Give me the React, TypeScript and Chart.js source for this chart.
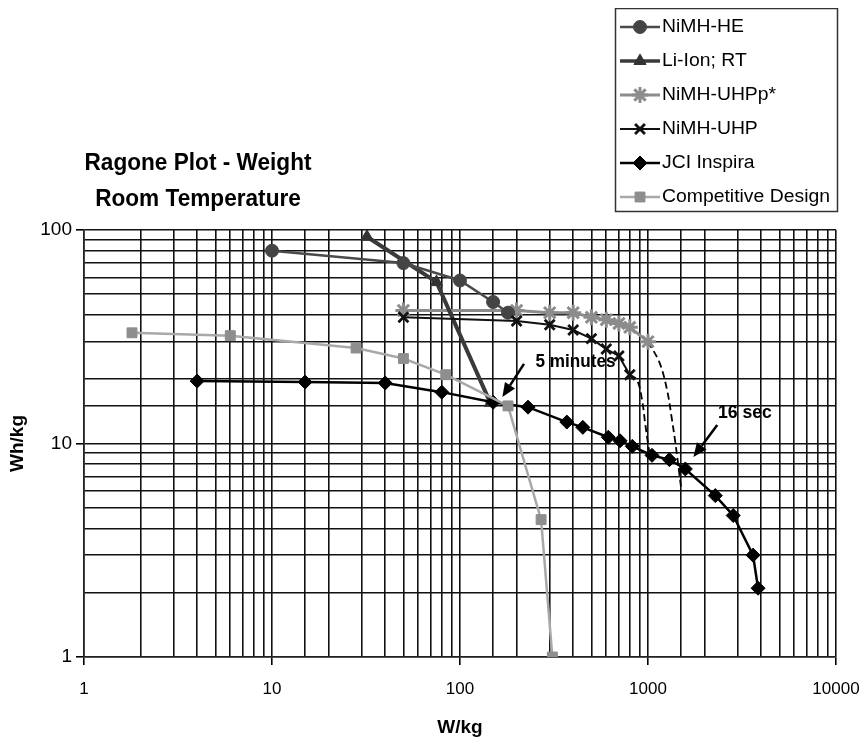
import React, { useEffect, useRef } from 'react';
import { Chart, registerables } from 'chart.js';
import { drawPoint } from 'chart.js/helpers';

Chart.register(...registerables);

// ---------- data ----------
const titleLines = ['Ragone Plot - Weight', 'Room Temperature'];
const xTitle = 'W/kg';
const yTitle = 'Wh/kg';

const nimhHeX = [10, 50, 100, 150, 180];
const nimhHeY = [80, 70, 58, 46, 41];

const liIonX = [32, 75, 145];
const liIonY = [93, 57, 15.5];

const uhppX = [50, 200, 300, 400, 500, 600, 700, 800, 1000];
const uhppY = [42, 42, 41, 41, 39, 38, 36.5, 35, 30];
const uhppTailX = [1000, 1150, 1260, 1340, 1400, 1460, 1500];
const uhppTailY = [30, 24, 18, 13, 10, 7.5, 6.2];

const uhpX = [50, 200, 300, 400, 500, 600, 700, 800];
const uhpY = [39, 37.5, 36, 34, 31, 27.7, 25.7, 21];
const uhpTailX = [800, 875, 930, 965, 1000, 1015];
const uhpTailY = [21, 19.8, 16, 12.5, 10, 9.2];

const jciX = [4, 15, 40, 80, 150, 230, 370, 450, 615, 710, 825, 1050, 1300, 1580, 2280, 2840, 3620, 3850];
const jciY = [19.6, 19.4, 19.2, 17.4, 15.6, 14.8, 12.6, 11.9, 10.7, 10.3, 9.7, 8.8, 8.4, 7.6, 5.7, 4.6, 3.0, 2.1];

const compX = [1.8, 6, 28, 50, 84, 180, 270, 310];
const compY = [33, 32, 28, 25, 21, 15, 4.4, 1.0];

const fiveMinText = '5 minutes';
const fiveMinAt = [252, 24.1];
const fiveMinArrow = [219, 23.6, 168, 16.5];
const sixteenText = '16 sec';
const sixteenAt = [2355, 13.9];
const sixteenArrow = [2336, 12.2, 1743, 8.64];

// ---------- helpers ----------
const FONT = "'Liberation Sans', Arial, Helvetica, sans-serif";
const pts = (xs: number[], ys: number[]) => xs.map((x, i) => ({ x, y: ys[i] }));
const isPow10 = (v: number) => Math.abs(Math.log10(v) - Math.round(Math.log10(v))) < 1e-9;

function squashed(ctx: CanvasRenderingContext2D, text: string, x: number, y: number, k: number, align: CanvasTextAlign) {
  ctx.save();
  ctx.translate(x, y);
  ctx.scale(k, 1);
  ctx.textAlign = align;
  ctx.fillText(text, 0, 0);
  ctx.restore();
}

function arrow(ctx: CanvasRenderingContext2D, x1: number, y1: number, x2: number, y2: number) {
  const ang = Math.atan2(y2 - y1, x2 - x1);
  const hl = 14, hw = 6;
  const bx = x2 - hl * Math.cos(ang), by = y2 - hl * Math.sin(ang);
  ctx.save();
  ctx.strokeStyle = '#000';
  ctx.fillStyle = '#000';
  ctx.lineWidth = 2.5;
  ctx.beginPath();
  ctx.moveTo(x1, y1);
  ctx.lineTo(bx, by);
  ctx.stroke();
  ctx.beginPath();
  ctx.moveTo(x2, y2);
  ctx.lineTo(bx + hw * Math.sin(ang), by - hw * Math.cos(ang));
  ctx.lineTo(bx - hw * Math.sin(ang), by + hw * Math.cos(ang));
  ctx.closePath();
  ctx.fill();
  ctx.restore();
}

const overlayPlugin = {
  id: 'overlay',
  afterDraw(chart: any) {
    const ctx: CanvasRenderingContext2D = chart.ctx;
    const xs = chart.scales.x;
    const ys = chart.scales.y;
    ctx.save();
    ctx.fillStyle = '#000';
    ctx.textBaseline = 'middle';

    // title
    ctx.font = `bold 24px ${FONT}`;
    const kt = 227 / ctx.measureText(titleLines[0]).width;
    squashed(ctx, titleLines[0], 190, 155, kt, 'center');
    squashed(ctx, titleLines[1], 190, 191, kt, 'center');

    // legend
    ctx.strokeStyle = '#333';
    ctx.lineWidth = 1.5;
    ctx.strokeRect(607.5, 0.5, 222, 203);
    ctx.font = `18px ${FONT}`;
    const kl = 168 / ctx.measureText('Competitive Design').width;
    let row = 0;
    chart.data.datasets.forEach((ds: any) => {
      if (!ds.inLegend) return;
      const y = 19 + row * 34;
      row++;
      ctx.save();
      ctx.strokeStyle = ds.borderColor;
      ctx.lineWidth = Math.min(ds.borderWidth, 3.5);
      ctx.beginPath();
      ctx.moveTo(612, y);
      ctx.lineTo(652, y);
      ctx.stroke();
      ctx.fillStyle = ds.pointBackgroundColor;
      ctx.strokeStyle = ds.pointBorderColor;
      ctx.lineWidth = ds.pointBorderWidth;
      drawPoint(ctx, { pointStyle: ds.pointStyle, rotation: 0, radius: ds.pointRadius, borderWidth: ds.pointBorderWidth }, 632, y);
      ctx.restore();
      ctx.fillStyle = '#000';
      squashed(ctx, ds.label, 654, y, kl, 'left');
    });

    // annotations
    ctx.font = `bold 18px ${FONT}`;
    squashed(ctx, fiveMinText, xs.getPixelForValue(fiveMinAt[0]), ys.getPixelForValue(fiveMinAt[1]),
      80 / ctx.measureText(fiveMinText).width, 'left');
    squashed(ctx, sixteenText, xs.getPixelForValue(sixteenAt[0]), ys.getPixelForValue(sixteenAt[1]),
      54 / ctx.measureText(sixteenText).width, 'left');
    arrow(ctx, xs.getPixelForValue(fiveMinArrow[0]), ys.getPixelForValue(fiveMinArrow[1]),
      xs.getPixelForValue(fiveMinArrow[2]), ys.getPixelForValue(fiveMinArrow[3]));
    arrow(ctx, xs.getPixelForValue(sixteenArrow[0]), ys.getPixelForValue(sixteenArrow[1]),
      xs.getPixelForValue(sixteenArrow[2]), ys.getPixelForValue(sixteenArrow[3]));
    ctx.restore();
  },
};

export default function App() {
  const ref = useRef<HTMLCanvasElement>(null);

  useEffect(() => {
    if (!ref.current) return;
    Chart.defaults.font.family = FONT;
    Chart.defaults.color = '#000';

    const series = (label: string, data: any[], color: string, lw: number, style: string, r: number, fill: string, pbw: number, order: number) => ({
      label, data, borderColor: color, borderWidth: lw, pointStyle: style, pointRadius: r,
      pointBackgroundColor: fill, pointBorderColor: fill, pointBorderWidth: pbw,
      pointHoverRadius: r, showLine: true, tension: 0, inLegend: true, order,
    });
    const dashed = (data: any[]) => ({
      label: '', data, borderColor: '#000', borderWidth: 1.8, borderDash: [7, 4],
      pointRadius: 0, showLine: true, tension: 0.35, inLegend: false, order: 10,
    });

    const gridTickColor = (c: any) => (c.tick && isPow10(c.tick.value) ? '#000' : 'rgba(0,0,0,0)');

    const chart = new Chart(ref.current, {
      type: 'scatter',
      data: {
        datasets: [
          series('NiMH-HE', pts(nimhHeX, nimhHeY), '#4a4a4a', 2.5, 'circle', 6.5, '#444', 1, 3),
          series('Li-Ion; RT', pts(liIonX, liIonY), '#3a3a3a', 4, 'triangle', 7, '#333', 1, 4),
          series('NiMH-UHPp*', pts(uhppX, uhppY), '#8c8c8c', 3, 'star', 8, '#8c8c8c', 3, 5),
          series('NiMH-UHP', pts(uhpX, uhpY), '#111', 2, 'crossRot', 7, '#111', 2.8, 2),
          series('JCI Inspira', pts(jciX, jciY), '#000', 2.5, 'rectRot', 7, '#000', 1, 1),
          series('Competitive Design', pts(compX, compY), '#a8a8a8', 2.5, 'rect', 7, '#8e8e8e', 1, 0),
          dashed(pts(uhppTailX, uhppTailY)),
          dashed(pts(uhpTailX, uhpTailY)),
        ] as any,
      },
      options: {
        responsive: false,
        devicePixelRatio: 1,
        animation: false,
        layout: { padding: { top: 222, right: 24, left: 0, bottom: 0 } },
        plugins: { legend: { display: false }, tooltip: { enabled: false }, title: { display: false } },
        scales: {
          x: {
            type: 'logarithmic',
            min: 1,
            max: 10000,
            afterFit: (s: any) => { s.height = 80; s.paddingLeft = 0; s.paddingRight = 0; },
            grid: { color: '#111', lineWidth: 1.6, drawTicks: true, tickLength: 8, tickColor: gridTickColor },
            border: { color: '#222', width: 1.6 },
            ticks: {
              autoSkip: false,
              maxRotation: 0,
              padding: 14,
              font: { size: 17 },
              color: '#000',
              callback: (v: any) => (isPow10(Number(v)) ? String(Math.round(Number(v))) : ''),
            },
            title: { display: true, text: xTitle, font: { size: 19, weight: 'bold', lineHeight: 1 }, padding: 0, color: '#000' },
          },
          y: {
            type: 'logarithmic',
            min: 1,
            max: 100,
            afterFit: (s: any) => { s.width = 76; },
            grid: { color: '#111', lineWidth: 1.6, drawTicks: true, tickLength: 8, tickColor: gridTickColor },
            border: { color: '#222', width: 1.6 },
            ticks: {
              autoSkip: false,
              padding: 4,
              font: { size: 19 },
              color: '#000',
              callback: (v: any) => (isPow10(Number(v)) ? String(Math.round(Number(v))) : ''),
            },
            title: { display: true, text: yTitle, font: { size: 19, weight: 'bold', lineHeight: 1 }, padding: 0, color: '#000' },
          },
        },
      } as any,
      plugins: [overlayPlugin],
    });
    return () => chart.destroy();
  }, []);

  return <canvas ref={ref} width={852} height={729} style={{ display: 'block' }} />;
}
